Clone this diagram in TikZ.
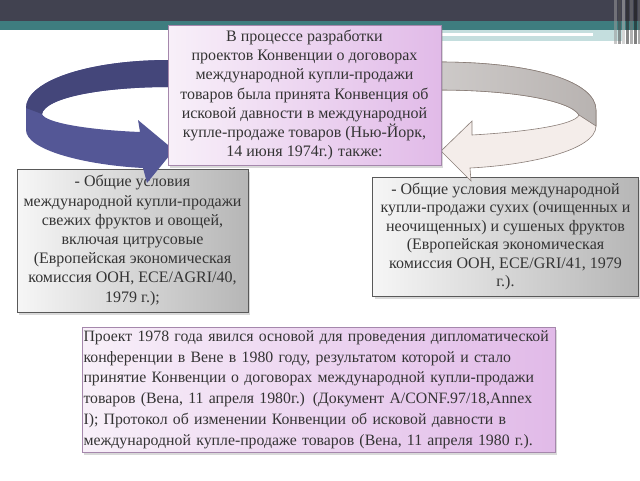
\documentclass[tikz,border=0pt]{standalone}
\usepackage{fontspec}
\setmainfont{Liberation Serif}
\usetikzlibrary{shadows}
\definecolor{darkband}{RGB}{65,66,80}
\definecolor{tealband}{RGB}{62,125,127}
\definecolor{lightteal}{RGB}{196,222,222}
\definecolor{palepink}{RGB}{248,240,249}
\definecolor{deeppink}{RGB}{225,186,232}
\definecolor{pinkline}{RGB}{165,135,172}
\definecolor{palegray}{RGB}{246,246,246}
\definecolor{boxgray}{RGB}{182,182,182}
\definecolor{textgray}{RGB}{52,52,52}
\definecolor{bluefront}{RGB}{84,87,150}
\definecolor{blueback}{RGB}{68,70,122}
\definecolor{beigefront}{RGB}{244,237,234}
\definecolor{beigeback}{RGB}{184,179,177}
\definecolor{beigeline}{RGB}{138,126,120}
\tikzstyle{pinkblock} = [rectangle, draw=pinkline, thick, left color=palepink,
    right color=deeppink, text=textgray, inner sep=0pt,
    drop shadow={opacity=0.3, shadow xshift=2pt, shadow yshift=-3pt}]
\tikzstyle{grayblock} = [rectangle, draw=black!65, thick, left color=palegray,
    right color=boxgray, text=textgray, inner sep=0pt, align=center,
    drop shadow={opacity=0.3, shadow xshift=2pt, shadow yshift=-3pt}]
\tikzstyle{blueband} = [fill=bluefront]
\tikzstyle{grayband} = [fill=beigefront, draw=beigeline, line width=0.6pt]

\begin{document}
\begin{tikzpicture}[x=1pt, y=-1pt,
    every node/.style={font=\fontsize{16}{19.2}\selectfont}]
    \useasboundingbox (0,0) rectangle (640,480);
    % title bands
    \fill[darkband] (0,0) rectangle (640,21);
    \fill[tealband] (0,21) rectangle (640,30);
    \fill[lightteal] (441,30) rectangle (622,41);
    \draw[white, line width=3pt] (441,34.5) -- (593,34.5);
    \foreach \x/\g in {614/40, 618/70, 622/30, 626/85, 630/55, 634/90, 638/60}
      \fill[black!\g!white, opacity=0.55] (\x,0) rectangle (\x+3,44);

    \node[grayblock, minimum width=231pt, minimum height=143pt] (fresh) at (132.5,240.5)
      {- Общие условия\\ международной купли-продажи\\ свежих фруктов и овощей,\\
       включая цитрусовые\\ (Европейская экономическая\\ комиссия ООН, ECE/AGRI/40,\\ 1979 г.);};
    \node[grayblock, minimum width=266pt, minimum height=119pt,
      font=\fontsize{16}{18.4}\selectfont] (dried) at (505.5,236.5)
      {- Общие условия международной\\ купли-продажи сухих (очищенных и\\
       неочищенных) и сушеных фруктов\\ (Европейская экономическая\\
       комиссия ООН, ECE/GRI/41, 1979\\ г.).};
    \node[pinkblock, align=left, text width=470pt, inner xsep=1.5pt, minimum height=125pt,
      font=\fontsize{15.8}{20.8}\selectfont] (vienna) at (318.5,389.5)
      {Проект 1978 года явился основой для проведения дипломатической\\
       конференции в Вене в 1980 году, результатом которой и стало\\
       принятие Конвенции о договорах международной купли-продажи\\
       товаров (Вена, 11 апреля 1980г.) (Документ A/CONF.97/18,Annex\\
       I); Протокол об изменении Конвенции об исковой давности в\\
       международной купле-продаже товаров (Вена, 11 апреля 1980 г.).};

    % left circular arrow
    \path[blueband] (170,60) .. controls (85,60) and (26,82) .. (26,108) -- (26,130)
      .. controls (26,150) and (85,165) .. (143,168) -- (147,183) -- (174,150)
      -- (138,120) -- (140,132) .. controls (90,130) and (45,123) .. (42,114)
      .. controls (45,98) and (100,87) .. (170,87) -- cycle;
    \fill[blueback] (170,60) .. controls (85,60) and (26,82) .. (26,108) -- (42,114)
      .. controls (45,98) and (100,87) .. (170,87) -- cycle;
    % right circular arrow
    \path[grayband] (439,62) .. controls (535,62) and (596,82) .. (596,110) -- (596,126)
      .. controls (596,150) and (530,165) .. (470,168) -- (471,181) -- (441,151)
      -- (472,121) -- (472,135) .. controls (525,132) and (575,125) .. (579,115)
      .. controls (570,100) and (510,90) .. (439,90) -- cycle;
    \path[draw=beigeline, line width=0.6pt, left color=beigeback!70!white, right color=beigeback]
      (439,62) .. controls (535,62) and (596,82) .. (596,110) -- (596,126) -- (579,115)
      .. controls (570,100) and (510,90) .. (439,90) -- cycle;

    \node[pinkblock, align=center, minimum width=273pt, minimum height=140pt] (convention) at (304.5,95)
      {В процессе разработки\\ проектов Конвенции о договорах\\ международной купли-продажи\\
       товаров была принята Конвенция об\\ исковой давности в международной\\
       купле-продаже товаров (Нью-Йорк,\\ 14 июня 1974г.) также:};
\end{tikzpicture}
\end{document}
